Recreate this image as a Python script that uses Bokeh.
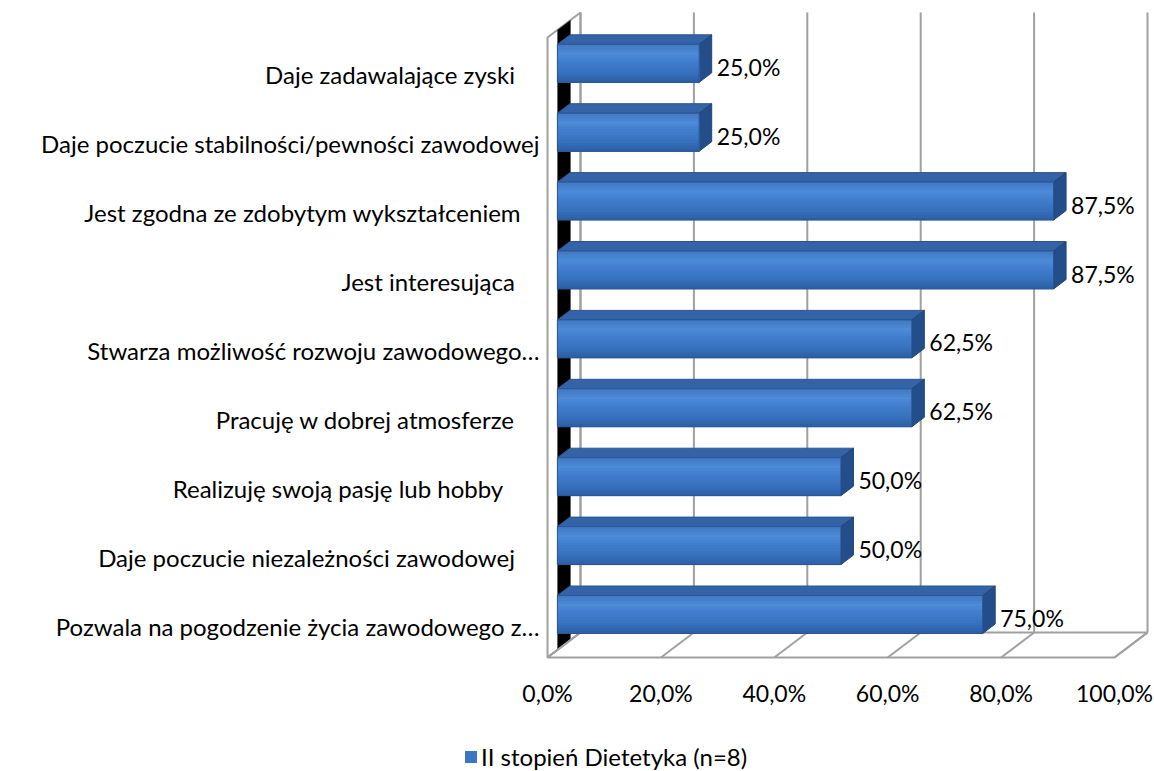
from bokeh.plotting import figure
from bokeh.models import Range1d, Legend, LegendItem
from bokeh.core.properties import value
from bokeh.embed import file_html
from bokeh.resources import INLINE

# ---------------- data (top to bottom, as in the chart) ----------------
categories = [
    "Daje zadawalające zyski",
    "Daje poczucie stabilności/pewności zawodowej",
    "Jest zgodna ze zdobytym wykształceniem",
    "Jest interesująca",
    "Stwarza możliwość rozwoju zawodowego…",
    "Pracuję w dobrej atmosferze",
    "Realizuję  swoją  pasję lub hobby",
    "Daje poczucie niezależności zawodowej",
    "Pozwala na pogodzenie życia zawodowego z…",
]
values = [25.0, 25.0, 87.5, 87.5, 62.5, 62.5, 50.0, 50.0, 75.0]
trailing_spaces = [4, 0, 3, 4, 0, 4, 4, 4, 0]
tick_values = [0, 20, 40, 60, 80, 100]
tick_labels = ["0,0%", "20,0%", "40,0%", "60,0%", "80,0%", "100,0%"]
series_name = "II stopień Dietetyka (n=8)"

# ---------------- geometry / style ----------------
W, H = 1154, 771
PXX = 5.67        # px per percent
PXY = 68.9        # px per category step
FONT = "Lato"

def ux(px):
    return px / PXX

def uy(px):
    return px / PXY

x_start = -547 / PXX
y_end = 614 / PXY
p = figure(width=W, height=H, output_backend="svg", toolbar_location=None,
           x_range=Range1d(x_start, x_start + W / PXX),
           y_range=Range1d(y_end - H / PXY, y_end),
           min_border=0, outline_line_color=None)
p.xaxis.visible = False
p.yaxis.visible = False
p.xgrid.visible = False
p.ygrid.visible = False
p.background_fill_color = "white"
p.border_fill_color = "white"

n = len(categories)
ypos = [n - 1 - i for i in range(n)]

DX, DY = ux(33), uy(25)          # full depth of the 3D box
yf = (614 - 657) / PXY           # floor front edge (data units)
yt = (614 - 37) / PXY            # top of walls (front)
GRID = "#A0A0A0"

# left wall
p.patch([0, 0, DX, DX], [yf, yt, yt + DY, yf + DY], fill_color="white",
        line_color=GRID, line_width=2)
# black strip on the wall
d0, d1 = 0.3, 0.7
p.patch([d0 * DX, d1 * DX, d1 * DX, d0 * DX],
        [yf + d0 * DY, yf + d1 * DY, yt + d1 * DY, yt + d0 * DY],
        fill_color="black", line_color=None)
# back-wall gridlines
p.segment(x0=[t + DX for t in tick_values], y0=[yf + DY] * len(tick_values),
          x1=[t + DX for t in tick_values], y1=[yt + DY] * len(tick_values),
          line_color=GRID, line_width=2)
# floor
p.patch([0, 100, 100 + DX, DX], [yf, yf, yf + DY, yf + DY], fill_color="white",
        line_color=GRID, line_width=2)
p.segment(x0=tick_values, y0=[yf] * len(tick_values),
          x1=[t + DX for t in tick_values], y1=[yf + DY] * len(tick_values),
          line_color=GRID, line_width=2)

# ---------------- bars ----------------
b0, b1 = 0.3, 0.68
bx0 = b0 * DX
ddx, ddy = (b1 - b0) * DX, (b1 - b0) * DY
h = uy(38)
rights = [v + bx0 for v in values]

top_xs, top_ys, end_xs, end_ys = [], [], [], []
for v, y in zip(values, ypos):
    ytop, ybot = y + h / 2, y - h / 2
    top_xs.append([bx0, v + bx0, v + bx0 + ddx, bx0 + ddx])
    top_ys.append([ytop, ytop, ytop + ddy, ytop + ddy])
    end_xs.append([v + bx0, v + bx0, v + bx0 + ddx, v + bx0 + ddx])
    end_ys.append([ybot, ytop, ytop + ddy, ybot + ddy])
p.patches(top_xs, top_ys, fill_color="#3464A7", line_color="#2B5592", line_width=1)
p.patches(end_xs, end_ys, fill_color="#244E8A", line_color="#1F4579", line_width=1)

main = p.hbar(y=ypos, left=bx0, right=rights, height=h, fill_color="#3B76C5",
              line_color=None)

def mix(c1, c2, t):
    a = [int(c1[i:i + 2], 16) for i in (1, 3, 5)]
    b = [int(c2[i:i + 2], 16) for i in (1, 3, 5)]
    return "#" + "".join("%02x" % round(a[k] + (b[k] - a[k]) * t) for k in range(3))

# vertical gradient: each band runs from its top edge down to the bar bottom,
# so later (lower) bands overwrite and no seams appear
NB = 14
stops = ["#4179C2", "#4D8AD8", "#3F7BCA", "#3671BE", "#2C5DA2"]
for i in range(NB):
    f = (i + 0.5) / NB
    seg = f * (len(stops) - 1)
    k = min(int(seg), len(stops) - 2)
    col = mix(stops[k], stops[k + 1], seg - k)
    band_top = h / 2 - i * h / NB
    yc = [y + (band_top - h / 2) / 2 for y in ypos]
    p.hbar(y=yc, left=bx0, right=rights, height=band_top + h / 2,
           fill_color=col, line_color=None)
p.hbar(y=ypos, left=bx0, right=rights, height=h, fill_color=None,
       line_color="#2A5594", line_width=1)

# value labels
p.text(x=[v + bx0 + ddx + ux(5) for v in values], y=[y - uy(3.5) for y in ypos],
       text=[f"{v:.1f}%".replace(".", ",") for v in values],
       text_font=value(FONT), text_font_size="23px", text_color="#000000",
       text_align="left", text_baseline="middle")

# category labels
p.text(x=[-ux(8)] * n, y=[y - uy(11.5) for y in ypos],
       text=[c + "\u00a0" * s for c, s in zip(categories, trailing_spaces)],
       text_font=value(FONT), text_font_size="24px", text_color="#000000",
       text_align="right", text_baseline="middle")

# tick labels
p.text(x=tick_values, y=[yf - uy(35)] * len(tick_values), text=tick_labels,
       text_font=value(FONT), text_font_size="23px", text_color="#000000",
       text_align="center", text_baseline="middle")

legend = Legend(items=[LegendItem(label=series_name, renderers=[main])],
                location=(463, 0), orientation="horizontal",
                label_text_font=FONT, label_text_font_size="24px",
                label_text_color="#000000", glyph_width=15, glyph_height=15,
                label_standoff=3, padding=0, margin=0, border_line_color=None,
                background_fill_alpha=0)
p.add_layout(legend)

open("out.html", "w").write(file_html(p, INLINE))
